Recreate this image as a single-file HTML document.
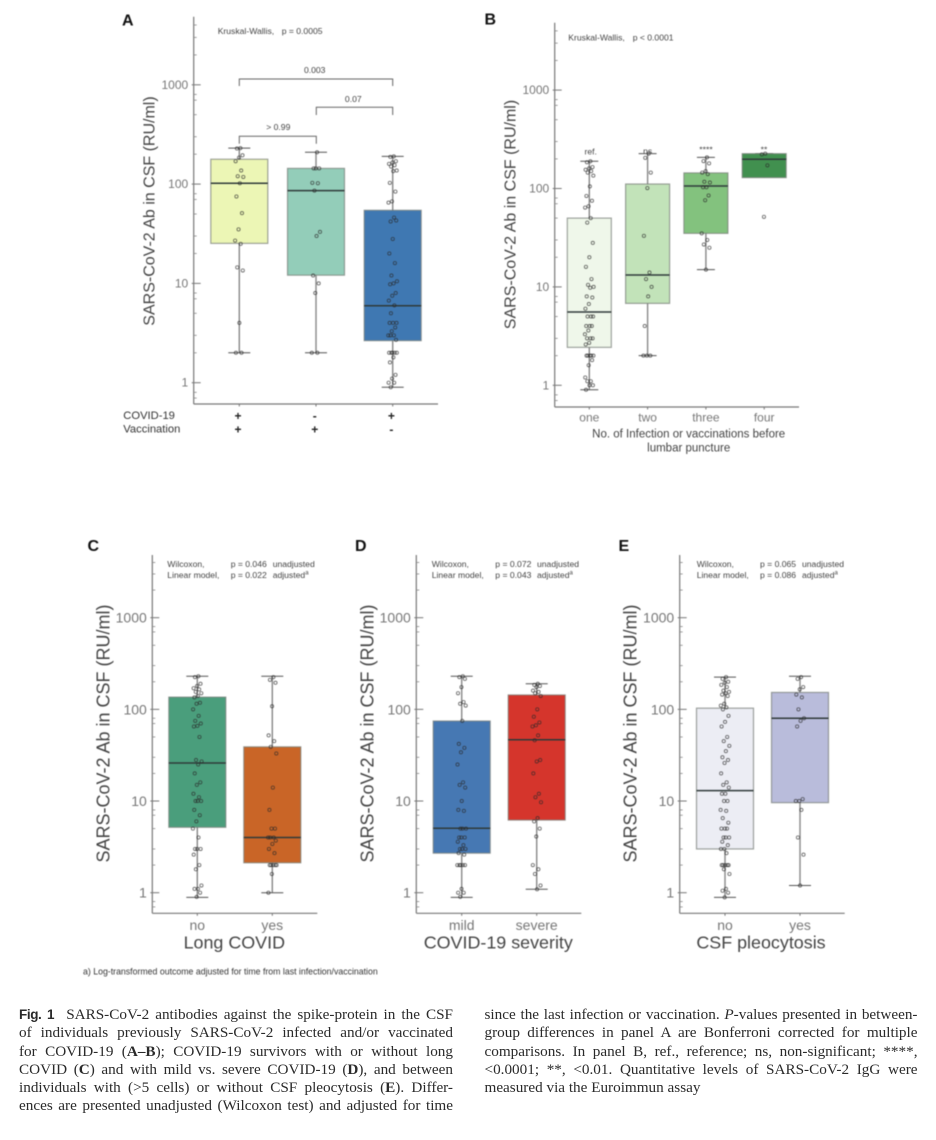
<!DOCTYPE html>
<html lang="en">
<head>
<meta charset="utf-8">
<title>SARS-CoV-2 antibodies in CSF</title>
<style>
html,body{margin:0;padding:0;background:#fff;}
body{position:relative;width:936px;height:1140px;overflow:hidden;font-family:"Liberation Sans",sans-serif;}
svg{position:absolute;left:0;top:0;filter:blur(.4px);}
text{font-family:"Liberation Sans",sans-serif;}
.cap{position:absolute;width:434px;height:18px;line-height:18px;font-family:"Liberation Serif",serif;font-size:15.2px;color:#2a2a2a;text-align:justify;text-align-last:justify;white-space:nowrap;filter:blur(.3px);}
.cap b.fig{font-family:"Liberation Sans",sans-serif;font-size:13.5px;letter-spacing:-.4px;}
.cap.last{text-align-last:left;}
</style>
</head>
<body>
<svg id="chart" width="936" height="1140" viewBox="0 0 936 1140" xmlns="http://www.w3.org/2000/svg">
  <g font-weight="bold" font-size="16" fill="#111" dominant-baseline="central">
    <text x="122" y="21" dominant-baseline="central">A</text>
    <text x="484.5" y="20" dominant-baseline="central">B</text>
    <text x="87.5" y="546.5" dominant-baseline="central">C</text>
    <text x="355" y="546.5" dominant-baseline="central">D</text>
    <text x="618.5" y="546.5" dominant-baseline="central">E</text>
  </g>
  <g fill="#444">
    <text font-size="16" text-anchor="middle" dominant-baseline="central" transform="translate(150 211) rotate(-90)">SARS-CoV-2 Ab in CSF (RU/ml)</text>
    <text font-size="16" text-anchor="middle" dominant-baseline="central" transform="translate(511 214.5) rotate(-90)">SARS-CoV-2 Ab in CSF (RU/ml)</text>
    <text font-size="18" text-anchor="middle" dominant-baseline="central" transform="translate(103.5 733.5) rotate(-90)">SARS-CoV-2 Ab in CSF (RU/ml)</text>
    <text font-size="18" text-anchor="middle" dominant-baseline="central" transform="translate(367.5 733.5) rotate(-90)">SARS-CoV-2 Ab in CSF (RU/ml)</text>
    <text font-size="18" text-anchor="middle" dominant-baseline="central" transform="translate(630.5 733.5) rotate(-90)">SARS-CoV-2 Ab in CSF (RU/ml)</text>
  </g>
  <g font-size="8.6" fill="#444">
    <text x="217.7" y="31" dominant-baseline="central">Kruskal-Wallis,</text>
    <text x="281.7" y="31" dominant-baseline="central">p = 0.0005</text>
    <text x="568.3" y="37.7" dominant-baseline="central">Kruskal-Wallis,</text>
    <text x="632.7" y="37.7" dominant-baseline="central">p &lt; 0.0001</text>

    <text x="167.3" y="564" dominant-baseline="central">Wilcoxon,</text>
    <text x="230.7" y="564" dominant-baseline="central">p = 0.046</text>
    <text x="272.7" y="564" dominant-baseline="central">unadjusted</text>
    <text x="167.3" y="575" dominant-baseline="central">Linear model,</text>
    <text x="230.7" y="575" dominant-baseline="central">p = 0.022</text>
    <text x="272.7" y="575" dominant-baseline="central">adjusted<tspan font-size="6" dy="-1.5">a</tspan></text>

    <text x="431.7" y="564" dominant-baseline="central">Wilcoxon,</text>
    <text x="495.3" y="564" dominant-baseline="central">p = 0.072</text>
    <text x="537" y="564" dominant-baseline="central">unadjusted</text>
    <text x="431.7" y="575" dominant-baseline="central">Linear model,</text>
    <text x="495.3" y="575" dominant-baseline="central">p = 0.043</text>
    <text x="537" y="575" dominant-baseline="central">adjusted<tspan font-size="6" dy="-1.5">a</tspan></text>

    <text x="696.7" y="564" dominant-baseline="central">Wilcoxon,</text>
    <text x="760" y="564" dominant-baseline="central">p = 0.065</text>
    <text x="802" y="564" dominant-baseline="central">unadjusted</text>
    <text x="696.7" y="575" dominant-baseline="central">Linear model,</text>
    <text x="760" y="575" dominant-baseline="central">p = 0.086</text>
    <text x="802" y="575" dominant-baseline="central">adjusted<tspan font-size="6" dy="-1.5">a</tspan></text>

    <text x="314.7" y="70" text-anchor="middle" dominant-baseline="central">0.003</text>
    <text x="353.3" y="99" text-anchor="middle" dominant-baseline="central">0.07</text>
    <text x="278.3" y="127" text-anchor="middle" dominant-baseline="central">&gt; 0.99</text>

    <text x="590.7" y="151.5" text-anchor="middle" dominant-baseline="central">ref.</text>
    <text x="647.7" y="151" text-anchor="middle" dominant-baseline="central">ns</text>
    <text x="706" y="149.5" text-anchor="middle" dominant-baseline="central">****</text>
    <text x="764" y="149.5" text-anchor="middle" dominant-baseline="central">**</text>
  </g>
  <g fill="none" stroke="#666" stroke-width="1">
    <polyline points="239.3,86 239.3,79 392.7,79 392.7,86"/>
    <polyline points="316.3,115 316.3,107.3 392.7,107.3 392.7,115"/>
    <polyline points="239.3,143.7 239.3,136.3 316.3,136.3 316.3,143.7"/>
  </g>
  <g font-size="11.2" fill="#333">
    <text x="123.3" y="416" dominant-baseline="central">COVID-19</text>
    <text x="123.3" y="429.3" dominant-baseline="central">Vaccination</text>
  </g>
  <g fill="#444">
    <text x="688.7" y="434.3" font-size="11.5" text-anchor="middle" dominant-baseline="central">No. of Infection or vaccinations before</text>
    <text x="688.7" y="448.3" font-size="11.5" text-anchor="middle" dominant-baseline="central">lumbar puncture</text>
    <text x="234.3" y="942.7" font-size="17.9" text-anchor="middle" dominant-baseline="central">Long COVID</text>
    <text x="498.3" y="942.7" font-size="17.9" text-anchor="middle" dominant-baseline="central">COVID-19 severity</text>
    <text x="761" y="942.7" font-size="17.9" text-anchor="middle" dominant-baseline="central">CSF pleocytosis</text>
  </g>
  <text x="83" y="971.3" font-size="8.75" fill="#333" dominant-baseline="central">a) Log-transformed outcome adjusted for time from last infection/vaccination</text>
  <g id="plots"></g>
</svg>

<div class="cap" style="left:19px;top:1006px"><b class="fig">Fig. 1</b>&nbsp; SARS-CoV-2 antibodies against the spike-protein in the CSF</div>
<div class="cap" style="left:19px;top:1024px">of individuals previously SARS-CoV-2 infected and/or vaccinated</div>
<div class="cap" style="left:19px;top:1042.5px">for COVID-19 (<b>A–B</b>); COVID-19 survivors with or without long</div>
<div class="cap" style="left:19px;top:1061px">COVID (<b>C</b>) and with mild vs. severe COVID-19 (<b>D</b>), and between</div>
<div class="cap" style="left:19px;top:1079px">individuals with (&gt;5 cells) or without CSF pleocytosis (<b>E</b>). Differ-</div>
<div class="cap" style="left:19px;top:1097px">ences are presented unadjusted (Wilcoxon test) and adjusted for time</div>
<div class="cap" style="left:484.5px;top:1006px;width:433px">since the last infection or vaccination. <i>P</i>-values presented in between-</div>
<div class="cap" style="left:484.5px;top:1024px;width:433px">group differences in panel A are Bonferroni corrected for multiple</div>
<div class="cap" style="left:484.5px;top:1042.5px;width:433px">comparisons. In panel B, ref., reference; ns, non-significant; ****,</div>
<div class="cap" style="left:484.5px;top:1061px;width:433px">&lt;0.0001; **, &lt;0.01. Quantitative levels of SARS-CoV-2 IgG were</div>
<div class="cap last" style="left:484.5px;top:1079px;width:433px">measured via the Euroimmun assay</div>

<script>
// ---- axis data ----
const yTickValues = [1, 10, 100, 1000];
const yTickLabels = ["1", "10", "100", "1000"];
const yMinorValues = [0.7, 0.8, 2, 3, 5, 7, 8, 20, 30, 50, 70, 80, 200, 300, 500, 700, 800, 2000, 3000, 4000];

// ---- panel A ----
const aCategories = ["", "", ""];
const aCovidRow = ["+", "-", "+"];
const aVaccinationRow = ["+", "+", "-"];
const aLow = [2, 2, 0.9];
const aQ1 = [25.3, 12.1, 2.65];
const aMedian = [102, 86, 5.96];
const aQ3 = [178, 144, 54.5];
const aHigh = [230, 209, 190];
const aPoints = [
  [230, 228, 195, 185, 170, 137, 120, 118, 102, 75, 51, 35, 27, 25, 14.5, 13.5, 4, 2, 2],
  [209, 144, 144, 144, 103, 102, 86, 33, 30, 12, 10, 8, 2, 2],
  [190, 188, 170, 165, 160, 155, 150, 137, 135, 103, 84, 67, 65, 46, 42, 43, 28, 20, 16, 12, 10.5, 10, 9.8, 8, 7.5, 6.7, 6, 5, 4, 4, 4, 3.6, 3.3, 3, 3, 3, 2.7, 2, 2, 2, 2, 2, 1.8, 1.6, 1.2, 1.1, 1, 1, 0.9]
];

// ---- panel B ----
const bCategories = ["one", "two", "three", "four"];
const bLow = [0.9, 2, 15, 129];
const bQ1 = [2.43, 6.8, 35, 129];
const bMedian = [5.55, 13.2, 106, 198];
const bQ3 = [50, 111, 144, 226];
const bHigh = [189, 226, 207, 226];
const bPoints = [
  [189, 185, 165, 160, 155, 150, 145, 135, 105, 84, 75, 66, 64, 50, 45, 28, 20, 16, 12, 10.5, 10, 9.8, 8, 7.8, 6.7, 6, 5, 5, 5, 4, 4, 4, 3.6, 3.3, 3, 3, 3, 2.7, 2.6, 2, 2, 2, 2, 2, 1.8, 1.6, 1.2, 1.1, 1.1, 1, 1, 0.9],
  [226, 205, 145, 101, 33, 14, 12, 10, 8, 4, 2, 2, 2],
  [207, 190, 180, 150, 145, 140, 117, 115, 103, 103, 85, 76, 35, 30, 27, 25, 15],
  [226, 222, 172, 51.5]
];

// ---- panel C ----
const cCategories = ["no", "yes"];
const cLow = [0.89, 1];
const cQ1 = [5.17, 2.12];
const cMedian = [26, 4];
const cQ3 = [136, 39];
const cHigh = [230, 230];
const cPoints = [
  [230, 225, 190, 180, 170, 165, 155, 150, 140, 135, 118, 115, 100, 85, 75, 70, 66, 65, 50, 28, 27, 25, 20, 16, 15, 12, 11, 10, 10, 10, 8, 7, 6, 5, 4, 3, 3, 3, 2.6, 2, 1.8, 1.2, 1.1, 1.1, 1, 0.9],
  [225, 210, 195, 108, 52, 45, 39, 33, 14, 8, 5, 5, 4, 4, 4, 3.7, 3.4, 3, 2.7, 2, 2, 2, 2, 2, 1.6, 1]
];

// ---- panel D ----
const dCategories = ["mild", "severe"];
const dLow = [0.89, 1.09];
const dQ1 = [2.7, 6.2];
const dMedian = [5.04, 46.6];
const dQ3 = [74.6, 143.6];
const dHigh = [230, 190];
const dPoints = [
  [230, 225, 215, 175, 150, 120, 115, 110, 75, 42, 38, 34, 25, 16, 15, 14, 10, 8, 7.8, 5, 5, 5, 4, 4, 4, 3.6, 3.3, 3, 3, 3, 2.7, 2.6, 2, 2, 2, 2, 2, 1.1, 1, 1, 0.9],
  [190, 185, 180, 175, 160, 155, 150, 140, 100, 83, 72, 67, 65, 52, 46, 28, 27, 20, 12, 11, 9.7, 6.5, 6, 5, 4.1, 2, 1.8, 1.6, 1.2, 1.09]
];

// ---- panel E ----
const eCategories = ["no", "yes"];
const eLow = [0.89, 1.2];
const eQ1 = [3, 9.6];
const eMedian = [13, 80];
const eQ3 = [103, 153];
const eHigh = [225, 230];
const ePoints = [
  [225, 215, 200, 195, 185, 175, 160, 155, 150, 145, 140, 115, 110, 105, 100, 85, 73, 65, 50, 45, 40, 35, 30, 28, 26, 20, 16, 15, 14, 12, 12, 10, 10, 8, 7.8, 6.5, 5.8, 5, 5, 5, 4, 4, 4, 3.6, 3.3, 3, 3, 2.7, 2, 2, 2, 2, 2, 1.8, 1.6, 1.1, 1.05, 1, 0.89],
  [225, 215, 175, 165, 145, 135, 100, 80, 75, 65, 10.5, 10, 10, 8, 4, 2.6, 1.2]
];

// ---- layout (not data) ----
const layouts = [
  {id:"a", cats:aCategories, low:aLow, q1:aQ1, med:aMedian, q3:aQ3, high:aHigh, pts:aPoints,
   axisX:193.7, right:438, top:16.7, bottom:404, y1:382.7, decade:99.3,
   firstCenter:239.3, step:76.7, boxW:57, capW:22, tickFont:12, catFont:12, catY:417.7,
   fills:["#ecf6b5","#93cdb9","#3f78b2"]},
  {id:"b", cats:bCategories, low:bLow, q1:bQ1, med:bMedian, q3:bQ3, high:bHigh, pts:bPoints,
   axisX:554.7, right:799, top:22.7, bottom:407, y1:385.3, decade:98.4,
   firstCenter:589.3, step:58.3, boxW:44, capW:18, tickFont:12, catFont:12, catY:417.7,
   fills:["#eff7ea","#c2e3b9","#83c27e","#41904f"]},
  {id:"c", cats:cCategories, low:cLow, q1:cQ1, med:cMedian, q3:cQ3, high:cHigh, pts:cPoints,
   axisX:152.3, right:317.3, top:555, bottom:913.3, y1:892.7, decade:91.67,
   firstCenter:197.3, step:75, boxW:57, capW:22, tickFont:14, catFont:14, catY:925,
   fills:["#4a9e7c","#c96527"]},
  {id:"d", cats:dCategories, low:dLow, q1:dQ1, med:dMedian, q3:dQ3, high:dHigh, pts:dPoints,
   axisX:416.3, right:581.3, top:555, bottom:913.3, y1:892.7, decade:91.67,
   firstCenter:461.7, step:75, boxW:57, capW:22, tickFont:14, catFont:14, catY:925,
   fills:["#4678b3","#d5352c"]},
  {id:"e", cats:eCategories, low:eLow, q1:eQ1, med:eMedian, q3:eQ3, high:eHigh, pts:ePoints,
   axisX:679.7, right:844.7, top:555, bottom:913.3, y1:892.7, decade:91.67,
   firstCenter:725, step:75, boxW:57, capW:22, tickFont:14, catFont:14, catY:925,
   fills:["#ecedf4","#b9bcdb"]}
];

const NS = "http://www.w3.org/2000/svg";
const root = document.getElementById("plots");

function mk(tag, parent, attrs) {
  const node = document.createElementNS(NS, tag);
  for (const k in attrs) node.setAttribute(k, attrs[k]);
  parent.appendChild(node);
  return node;
}
function yScale(p, v) { return p.y1 - p.decade * Math.log10(v); }
function xScale(p, i) { return p.firstCenter + p.step * i; }
// Horizontal scatter offset for overlapping points: index-derived, value-independent.
function jitter(i) { return (((i + 1) * 0.618034) % 1 - 0.5) * 9; }

layouts.forEach(function (p) {
  const g = mk("g", root, {});
  
  

  // Boxes, whiskers, medians
  p.cats.forEach(function (cat, i) {
    const cx = xScale(p, i);
    const group = mk("g", g, {});
    
    

    const whisker = mk("line", group, {x1:cx, x2:cx, y1:yScale(p, p.high[i]), y2:yScale(p, p.low[i]), stroke:"#888", "stroke-width":1.4});
    
    

    const capHigh = mk("line", group, {x1:cx - p.capW / 2, x2:cx + p.capW / 2, y1:yScale(p, p.high[i]), y2:yScale(p, p.high[i]), stroke:"#555", "stroke-width":1});
    
    

    if (p.low[i] < p.q1[i]) {
      const capLow = mk("line", group, {x1:cx - p.capW / 2, x2:cx + p.capW / 2, y1:yScale(p, p.low[i]), y2:yScale(p, p.low[i]), stroke:"#555", "stroke-width":1});
      
      
    }

    const box = mk("rect", group, {x:cx - p.boxW / 2, y:yScale(p, p.q3[i]), width:p.boxW, height:yScale(p, p.q1[i]) - yScale(p, p.q3[i]), fill:p.fills[i], stroke:"rgba(120,125,120,.7)", "stroke-width":1.2});
    
    

    const median = mk("line", group, {x1:cx - p.boxW / 2, x2:cx + p.boxW / 2, y1:yScale(p, p.med[i]), y2:yScale(p, p.med[i]), stroke:"#2f3a3a", "stroke-width":1.5});
    
    

    p.pts[i].forEach(function (v, j) {
      const pt = mk("circle", group, {cx:cx + jitter(j), cy:yScale(p, v), r:1.6, fill:"none", stroke:"#2a2a2a", "stroke-opacity":0.72, "stroke-width":0.8});
      
      
    });
  });

  // Y axis
  const yAxis = mk("line", g, {x1:p.axisX, x2:p.axisX, y1:p.top, y2:p.bottom, stroke:"#777", "stroke-width":1.2});
  
  

  const xAxis = mk("line", g, {x1:p.axisX, x2:p.right, y1:p.bottom, y2:p.bottom, stroke:"#777", "stroke-width":1.2});
  
  

  yMinorValues.forEach(function (v) {
    const t = mk("line", g, {x1:p.axisX, x2:p.axisX + 3, y1:yScale(p, v), y2:yScale(p, v), stroke:"#888", "stroke-width":0.8});
    
    
  });

  yTickValues.forEach(function (v, i) {
    const t = mk("line", g, {x1:p.axisX - 2, x2:p.axisX + 7, y1:yScale(p, v), y2:yScale(p, v), stroke:"#777", "stroke-width":1});
    
    

    const lab = mk("text", g, {x:p.axisX - 5.5, y:yScale(p, v), "text-anchor":"end", "dominant-baseline":"central", "font-size":p.tickFont, fill:"#777"});
    lab.textContent = yTickLabels[i];
    
    
  });

  // X ticks and category labels
  p.cats.forEach(function (cat, i) {
    const cx = xScale(p, i);
    const t = mk("line", g, {x1:cx, x2:cx, y1:p.bottom, y2:p.bottom + 2.5, stroke:"#777", "stroke-width":1});
    
    

    if (cat) {
      const lab = mk("text", g, {x:cx, y:p.catY, "text-anchor":"middle", "dominant-baseline":"central", "font-size":p.catFont, fill:"#777"});
      lab.textContent = cat;
      
      
    }
  });
});

// Panel A grouping rows (+ / -)
const pA = layouts[0];
aCovidRow.forEach(function (sign, i) {
  const lab = mk("text", root, {x:xScale(pA, i) - 1.3, y:416, "text-anchor":"middle", "dominant-baseline":"central", "font-size":12, "font-weight":"bold", fill:"#222"});
  lab.textContent = sign;
  
  
});
aVaccinationRow.forEach(function (sign, i) {
  const lab = mk("text", root, {x:xScale(pA, i) - 1.3, y:429.3, "text-anchor":"middle", "dominant-baseline":"central", "font-size":12, "font-weight":"bold", fill:"#222"});
  lab.textContent = sign;
  
  
});
</script>
</body>
</html>
